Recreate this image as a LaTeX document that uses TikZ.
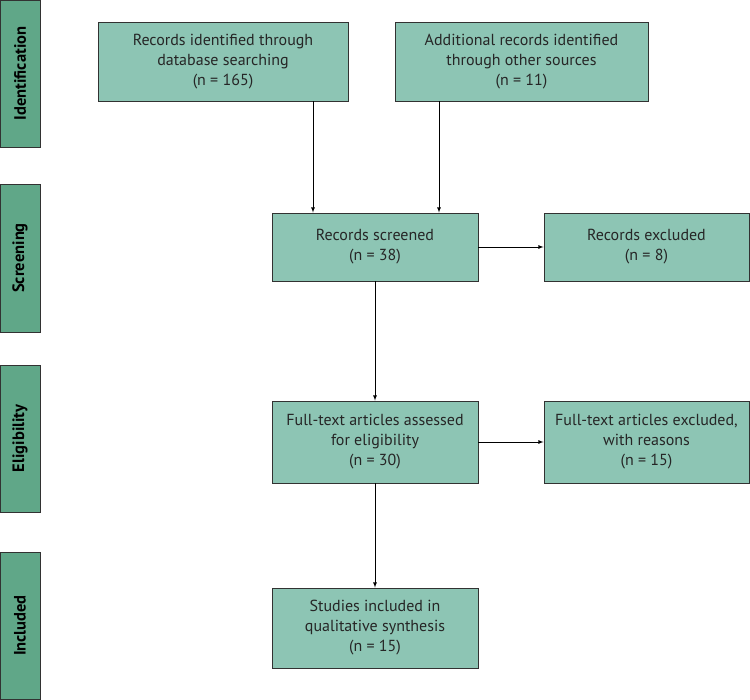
\documentclass[tikz,border=0pt]{standalone}
\usepackage{fontspec}
\setmainfont{PT Sans}
\usepackage{tikz}
\usetikzlibrary{arrows,positioning,calc}

\definecolor{boxfill}{RGB}{141,197,180}
\definecolor{stagefill}{RGB}{96,167,136}
\definecolor{edgegray}{RGB}{50,50,50}

\tikzset{
  box/.style={rectangle, draw=edgegray, fill=boxfill, line width=0.9pt, align=center,
    inner sep=2pt, text=black!85, font=\fontsize{16}{20}\selectfont},
  stage/.style={rectangle, draw=edgegray, fill=stagefill, line width=0.9pt,
    minimum width=40pt},
  stagetext/.style={rotate=90, font=\fontsize{16.5}{18}\selectfont\bfseries},
  flow/.style={->, >=latex, line width=0.8pt},
}

\begin{document}
\begin{tikzpicture}[x=1pt,y=1pt]
  \useasboundingbox (0,0) rectangle (750,700);

  % stage bars
  \node (ident) [stage, minimum height=147pt] at (20,626.5) {};
  \node (screen) [stage, minimum height=148pt] at (20,442) {};
  \node (elig) [stage, minimum height=147pt] at (20,261.5) {};
  \node (incl) [stage, minimum height=147pt] at (20,74.5) {};
  \node [stagetext] at (ident) {Identification};
  \node [stagetext] at (screen) {Screening};
  \node [stagetext] at (elig) {Eligibility};
  \node [stagetext] at (incl) {Included};

  % boxes
  \node (db) [box, minimum width=250pt, minimum height=79pt] at (223,638.5)
    {Records identified through\\database searching\\(n = 165)};
  \node (other) [box, minimum width=253pt, minimum height=79pt] at (521.5,638.5)
    {Additional records identified\\through other sources\\(n = 11)};

  \node (screened) [box, minimum width=206pt, minimum height=68pt] at (375,453)
    {Records screened\\(n = 38)};
  \node (excl) [box, minimum width=205pt, minimum height=68pt] at (646.5,453)
    {Records excluded\\(n = 8)};

  \node (full) [box, minimum width=206pt, minimum height=82pt] at (375,258)
    {Full-text articles assessed\\for eligibility\\(n = 30)};
  \node (fullexcl) [box, minimum width=205pt, minimum height=82pt] at (646.5,258)
    {Full-text articles excluded,\\with reasons\\(n = 15)};

  \node (studies) [box, minimum width=206pt, minimum height=80pt] at (375,72)
    {Studies included in\\qualitative synthesis\\(n = 15)};

  % connectors
  \draw [flow] ([xshift=-62pt]screened.north |- db.south) -- ([xshift=-62pt]screened.north);
  \draw [flow] ([xshift=64pt]screened.north |- other.south) -- ([xshift=64pt]screened.north);
  \draw [flow] (screened) -- (excl);
  \draw [flow] (screened) -- (full);
  \draw [flow] (full) -- (fullexcl);
  \draw [flow] (full) -- (studies);
\end{tikzpicture}
\end{document}
